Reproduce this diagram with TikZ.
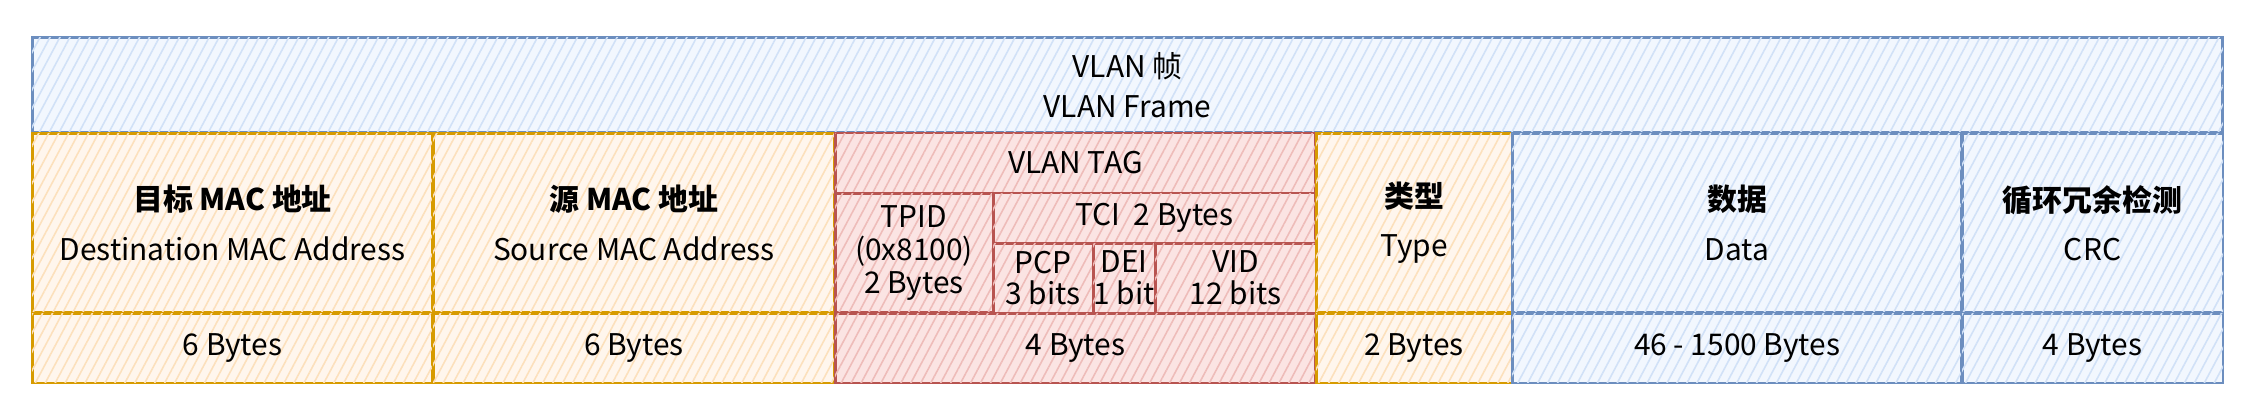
\documentclass[tikz,border=0pt]{standalone}
\usepackage{fontspec}
\setmainfont{Noto Sans CJK SC}
\usetikzlibrary{patterns.meta}
\definecolor{bS}{HTML}{6C8EBF}\definecolor{bF}{HTML}{DAE8FC}
\definecolor{oS}{HTML}{D79B00}\definecolor{oF}{HTML}{FFE6CC}
\definecolor{rS}{HTML}{B85450}\definecolor{rF}{HTML}{F8CECC}
\tikzset{
  cell/.style={line width=1.7pt, inner sep=0pt, align=center, font=\fontsize{17}{21}\selectfont},
  bluecell/.style={cell, draw=bS, fill=bF!35, postaction={pattern={Lines[angle=62,distance=5pt,line width=0.9pt]}, pattern color=bF!92!bS}},
  orangecell/.style={cell, draw=oS, fill=oF!35, postaction={pattern={Lines[angle=62,distance=5pt,line width=0.9pt]}, pattern color=oF!92!oS}},
  redcell/.style={cell, draw=rS, fill=rF!55, postaction={pattern={Lines[angle=62,distance=5pt,line width=0.9pt]}, pattern color=rF!85!rS}},
}
\newcommand{\hd}[1]{{\bfseries #1}}
\begin{document}
\begin{tikzpicture}[x=0.02cm,y=-0.02cm]
\useasboundingbox (0,0) rectangle (2258,412);
% frame
\node[bluecell, minimum width=43.82cm, minimum height=1.92cm] (frame) at (1127.5,85) {VLAN 帧\\[2pt]VLAN Frame};
% destination
\node[orangecell, minimum width=8.02cm, minimum height=3.6cm] (dst) at (232.5,223) {\hd{目标 MAC 地址}\\[7pt]Destination MAC Address};
\node[orangecell, minimum width=8.02cm, minimum height=1.4cm] (dstb) at (232.5,348) {6 Bytes};
% source
\node[orangecell, minimum width=8.04cm, minimum height=3.6cm] (src) at (634,223) {\hd{源 MAC 地址}\\[7pt]Source MAC Address};
\node[orangecell, minimum width=8.04cm, minimum height=1.4cm] (srcb) at (634,348) {6 Bytes};
% vlan tag
\node[redcell, minimum width=9.62cm, minimum height=1.2cm] (tag) at (1075.5,163) {VLAN TAG};
\node[redcell, minimum width=3.16cm, minimum height=2.4cm] (tpid) at (914,253) {TPID\\[-2pt](0x8100)\\[-2pt]2 Bytes};
\node[redcell, minimum width=6.46cm, minimum height=1.0cm] (tci) at (1154.5,218) {TCI\ \ 2 Bytes};
\node[redcell, minimum width=2.0cm, minimum height=1.4cm] (pcp) at (1043,278) {PCP\\[-3pt]3 bits};
\node[redcell, minimum width=1.24cm, minimum height=1.4cm] (dei) at (1124,278) {DEI\\[-3pt]1 bit};
\node[redcell, minimum width=3.22cm, minimum height=1.4cm] (vid) at (1235.5,278) {VID\\[-3pt]12 bits};
\node[redcell, minimum width=9.62cm, minimum height=1.4cm] (tagb) at (1075.5,348) {4 Bytes};
% type
\node[orangecell, minimum width=3.92cm, minimum height=3.6cm] (type) at (1414,223) {\hd{类型}\\[7pt]Type};
\node[orangecell, minimum width=3.92cm, minimum height=1.4cm] (typeb) at (1414,348) {2 Bytes};
% data
\node[bluecell, minimum width=9.0cm, minimum height=3.6cm] (data) at (1737,223) {\hd{数据}\\[7pt]Data};
\node[bluecell, minimum width=9.0cm, minimum height=1.4cm] (datab) at (1737,348) {46 - 1500 Bytes};
% crc
\node[bluecell, minimum width=5.22cm, minimum height=3.6cm] (crc) at (2092.5,223) {\hd{循环冗余检测}\\[7pt]CRC};
\node[bluecell, minimum width=5.22cm, minimum height=1.4cm] (crcb) at (2092.5,348) {4 Bytes};
\end{tikzpicture}
\end{document}
